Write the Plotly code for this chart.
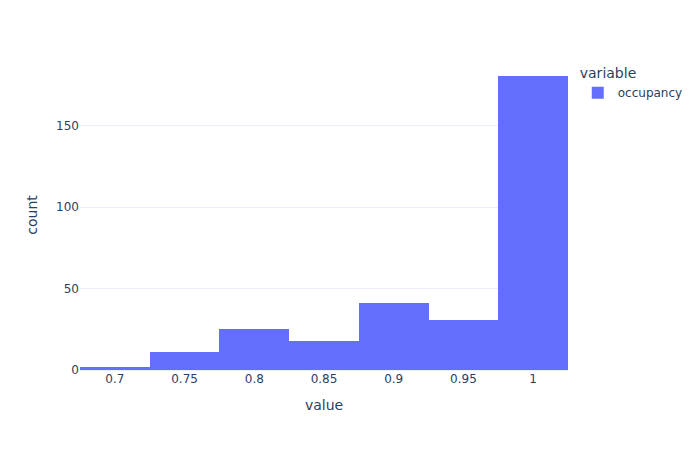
import plotly.graph_objects as go

bin_centers = [0.7, 0.75, 0.8, 0.85, 0.9, 0.95, 1.0]
counts = [2, 11, 25, 18, 41, 31, 181]
bin_width = 0.05
tick_labels = ["0.7", "0.75", "0.8", "0.85", "0.9", "0.95", "1"]

fig = go.Figure()
fig.add_trace(go.Bar(
    x=bin_centers, y=counts, width=[bin_width] * len(bin_centers),
    name="occupancy", marker=dict(color="#636efa", line=dict(width=0)),
    showlegend=True, legendgroup="occupancy",
))
fig.update_layout(
    template="plotly_white",
    width=700, height=450,
    font=dict(family="DejaVu Sans, Verdana, sans-serif"),
    bargap=0,
    legend=dict(title=dict(text="variable"), tracegroupgap=0),
    xaxis=dict(title=dict(text="value"), tickvals=bin_centers, ticktext=tick_labels),
    yaxis=dict(title=dict(text="count")),
    margin=dict(t=60),
)
fig.write_html("out.html", config={"displayModeBar": False},
               post_script="document.body.style.margin='0';")
